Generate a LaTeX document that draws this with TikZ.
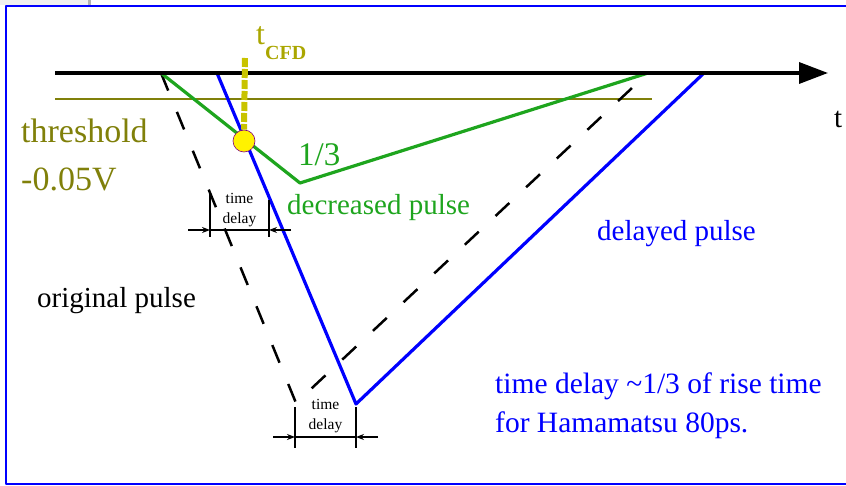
\documentclass[tikz,border=0pt]{standalone}
\usepackage{fontspec}
\setmainfont{Liberation Serif}
\usetikzlibrary{arrows.meta}
\definecolor{olv}{RGB}{128,128,10}
\definecolor{cfd}{RGB}{200,195,0}
\definecolor{grn}{RGB}{30,165,30}
\definecolor{blu}{RGB}{0,0,255}
\begin{document}
\begin{tikzpicture}[x=1pt,y=-1pt,line join=round,>={Stealth[length=8pt,width=6pt]},font=\fontsize{29}{35}\selectfont]
\tikzset{p/.style={line width=3.2pt},
  s/.style={inner sep=0pt,anchor=base west},
  d/.style={line width=1.3pt},
  sm/.style={font=\fontsize{15.5}{19.5}\selectfont,inner sep=0pt,align=center}}
\useasboundingbox (0,0) rectangle (846,486);
\fill[black!6] (0,0) rectangle (88,5);
\fill[black!30] (88,0) rectangle (91,5);
\draw[blu,line width=2.5pt] (6,6) rectangle (870,484);

\path (55,73)coordinate(a0) (828,73)coordinate(a1) (55,99)coordinate(h0) (652,99)coordinate(h1)
  (161,73)coordinate(O) (296,403)coordinate(Om) (648,73)coordinate(E) (300,183)coordinate(Gm)
  (217,73)coordinate(B0) (356,404)coordinate(Bm) (704,73)coordinate(B1) (245,58)coordinate(c0);

\draw[olv,line width=1.3pt] (h0)--(h1);
\draw[line width=2.5pt,dash pattern=on 19pt off 23pt] (O)--(Om)--(E);
\draw[p,blu] (B0)--(Bm)--(B1);
\draw[p,grn] (O)--(Gm)--(E);
\draw[line width=3.5pt,-{Triangle[length=29pt,width=21pt]}] (a0)--(a1);
\node[circle,fill=yellow,draw=violet,line width=0.6pt,minimum size=22pt,inner sep=0pt] (X) at (244,141) {};
\draw[cfd,line width=6pt,dash pattern=on 9pt off 2pt] (c0)--(X.north);

\node[s] (tax) at (834,128) {t};
\node[s,cfd!85!black] (tcfd) at (256,45) {\fontsize{32}{32}\selectfont t\raisebox{-15pt}{\fontsize{20}{20}\selectfont\bfseries CFD}};
\node[s,olv,font=\fontsize{34}{40}\selectfont] (th) at (21,143) {threshold};
\node[s,olv,font=\fontsize{34}{40}\selectfont] (tv) at (21,191) {-0.05V};
\node[s,grn,font=\fontsize{33}{40}\selectfont] (third) at (298,166) {1/3};
\node[s,grn] (dec) at (287,215) {decreased pulse};
\node[s,blu] (del) at (597,241) {delayed pulse};
\node[s] (orig) at (37,308) {original pulse};
\node[s,blu,font=\fontsize{29.5}{35}\selectfont] (n1) at (495,393) {time delay \textasciitilde1/3 of rise time};
\node[s,blu,font=\fontsize{29.5}{35}\selectfont] (n2) at (495,432) {for Hamamatsu 80ps.};

\foreach \l/\r/\y/\tl/\tr/\b/\ty in {210/269/230/192/200/237/210,295/356/437/407/407/448/416}{
  \path (\l,\y)coordinate(dl) (\r,\y)coordinate(dr) (\l-22,\y)coordinate(el) (\r+22,\y)coordinate(er)
    (\l,\tl)coordinate(ul) (\r,\tr)coordinate(ur) (\l,\b)coordinate(bl) (\r,\b)coordinate(br);
  \draw[d] (ul)--(bl) (ur)--(br) (dl)--(dr);
  \draw[d,->] (el)--(dl);
  \draw[d,->] (er)--(dr);
  \node[sm] at ({(\l+\r)/2},\ty) {time\\delay};
}
\end{tikzpicture}
\end{document}
